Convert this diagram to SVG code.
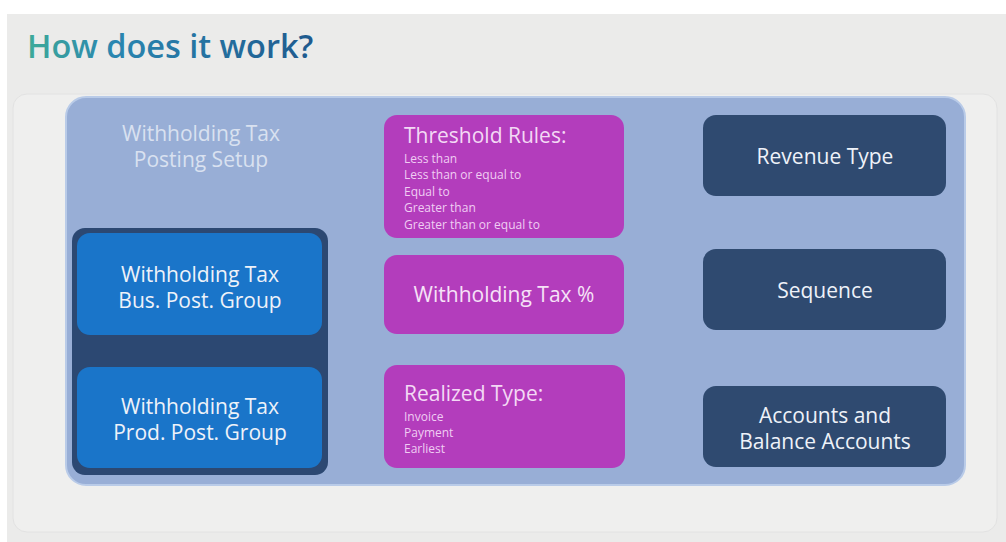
<svg xmlns="http://www.w3.org/2000/svg" width="1006" height="542" viewBox="0 0 1006 542">
<defs>
<linearGradient id="tg" x1="0" y1="0" x2="1" y2="0">
<stop offset="0" stop-color="#3eaa98"/>
<stop offset="0.3" stop-color="#2a86b0"/>
<stop offset="1" stop-color="#1f5a8e"/>
</linearGradient>
<style>
text{font-family:"Open Sans","Noto Sans","Liberation Sans",sans-serif}
.lbl{font-size:21px;fill:#eef2f9;text-anchor:middle}
.hdr{font-size:21px;fill:#f3d9f5}
.sub{font-size:12px;fill:#f0cdf3}
.mag{fill:#b33dbc}
.navy{fill:#2f4a70}
.blue{fill:#1a75c9}
</style>
</defs>
<rect x="0" y="0" width="1006" height="542" fill="#ffffff"/>
<rect x="7" y="14" width="1006" height="540" fill="#ebebea"/>
<rect x="13" y="94" width="984" height="438" rx="14" fill="#efefee" stroke="#e2e2e2"/>
<text x="27" y="58" font-size="32.5" font-weight="600" fill="url(#tg)">How does it work?</text>
<rect x="66" y="97" width="899" height="388" rx="20" fill="#98aed6" stroke="#b9cbe8" stroke-width="2"/>
<g id="posting-setup">
<text class="lbl" x="201" y="141" style="fill:#d9e1f0">Withholding Tax</text>
<text class="lbl" x="201" y="167" style="fill:#d9e1f0">Posting Setup</text>
</g>
<g id="group-box">
<rect x="72" y="228" width="256" height="247" rx="13" fill="#2c4872"/>
</g>
<g id="bus-post-group">
<rect class="blue" x="77" y="233" width="245" height="102" rx="13"/>
<text class="lbl" x="200" y="282">Withholding Tax</text>
<text class="lbl" x="200" y="308">Bus. Post. Group</text>
</g>
<g id="prod-post-group">
<rect class="blue" x="77" y="367" width="245" height="101" rx="13"/>
<text class="lbl" x="200" y="414">Withholding Tax</text>
<text class="lbl" x="200" y="440">Prod. Post. Group</text>
</g>
<g id="threshold-rules">
<rect class="mag" x="384" y="115" width="240" height="123" rx="13"/>
<text class="hdr" x="404" y="143">Threshold Rules:</text>
<text class="sub" x="404" y="163">Less than</text>
<text class="sub" x="404" y="179">Less than or equal to</text>
<text class="sub" x="404" y="196">Equal to</text>
<text class="sub" x="404" y="212">Greater than</text>
<text class="sub" x="404" y="229">Greater than or equal to</text>
</g>
<g id="wht-percent">
<rect class="mag" x="384" y="255" width="240" height="79" rx="13"/>
<text class="lbl" x="504" y="302" style="fill:#f6e2f7">Withholding Tax %</text>
</g>
<g id="realized-type">
<rect class="mag" x="384" y="365" width="241" height="103" rx="13"/>
<text class="hdr" x="404" y="401">Realized Type:</text>
<text class="sub" x="404" y="421">Invoice</text>
<text class="sub" x="404" y="437">Payment</text>
<text class="sub" x="404" y="453">Earliest</text>
</g>
<g id="revenue-type">
<rect class="navy" x="703" y="115" width="243" height="81" rx="13"/>
<text class="lbl" x="825" y="164">Revenue Type</text>
</g>
<g id="sequence">
<rect class="navy" x="703" y="249" width="243" height="81" rx="13"/>
<text class="lbl" x="825" y="298">Sequence</text>
</g>
<g id="accounts">
<rect class="navy" x="703" y="386" width="243" height="81" rx="13"/>
<text class="lbl" x="825" y="423">Accounts and</text>
<text class="lbl" x="825" y="449">Balance Accounts</text>
</g>
<g id="connectors"></g>
</svg>
